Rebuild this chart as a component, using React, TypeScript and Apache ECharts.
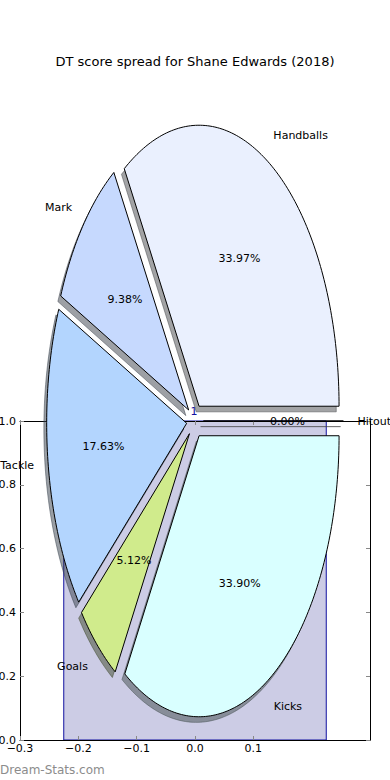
import React, { useEffect, useRef } from "react";
import * as echarts from "echarts";

// ---- data ----
const sliceNames = ["Hitout", "Handballs", "Mark", "Tackle", "Goals", "Kicks"];
const sliceShares = [0.0, 33.97, 9.38, 17.63, 5.12, 33.9];
const sliceColors = ["#D8D8D8", "#EAF0FE", "#C6D9FE", "#B3D5FE", "#D0EB8C", "#D9FFFF"];

const barX = [0];
const barHeights = [1];
const barLabels = ["1"];

const xTicks = [-0.3, -0.2, -0.1, 0.0, 0.1];
const yTicks = [0.0, 0.2, 0.4, 0.6, 0.8, 1.0];

const TITLE = "DT score spread for Shane Edwards (2018)";
const FOOTER = "Dream-Stats.com";

const FONT = "DejaVu Sans";
const EXPLODE = 0.06;
const SHADOW = 0.02;
const BAR_WIDTH = 0.45;

function hexToRgb(h: string) {
  const n = parseInt(h.slice(1), 16);
  return [(n >> 16) & 255, (n >> 8) & 255, n & 255];
}
function shadowColor(h: string) {
  const [r, g, b] = hexToRgb(h);
  return `rgba(${Math.round(r * 0.3)},${Math.round(g * 0.3)},${Math.round(b * 0.3)},0.5)`;
}
const fmtTick = (v: number) => v.toFixed(1).replace("-", "\u2212");

const total = sliceShares.reduce((a, b) => a + b, 0);
function sliceGeom(i: number) {
  let before = 0;
  for (let k = 0; k < i; k++) before += sliceShares[k];
  const start = (before / total) * Math.PI * 2;
  const end = ((before + sliceShares[i]) / total) * Math.PI * 2;
  const mid = (start + end) / 2;
  return { start, end, mid, cx: EXPLODE * Math.cos(mid), cy: EXPLODE * Math.sin(mid) };
}
function wedgePoints(api: any, i: number, dx: number, dy: number) {
  const g = sliceGeom(i);
  const pts: number[][] = [api.coord([g.cx + dx, g.cy + dy])];
  const n = Math.max(1, Math.ceil((g.end - g.start) / (Math.PI / 180)));
  for (let k = 0; k <= n; k++) {
    const a = g.start + ((g.end - g.start) * k) / n;
    pts.push(api.coord([g.cx + dx + Math.cos(a), g.cy + dy + Math.sin(a)]));
  }
  return pts;
}

export default function App() {
  const ref = useRef<HTMLDivElement>(null);
  useEffect(() => {
    if (!ref.current) return;
    const chart = echarts.init(ref.current, null, { renderer: "svg" });
    const axisCommon = {
      axisLine: { show: true, onZero: false, lineStyle: { color: "#000", width: 1 } },
      splitLine: { show: false },
    };
    chart.setOption({
      animation: false,
      backgroundColor: "#fff",
      grid: [
        { left: 20, right: 20, top: 421, bottom: 40, outerBoundsMode: "none", containLabel: false },
        { left: 20, right: 20, top: 27.6, height: 786.8, outerBoundsMode: "none", containLabel: false },
      ],
      xAxis: [
        {
          ...axisCommon,
          gridIndex: 0,
          type: "value",
          position: "bottom",
          min: -0.3,
          max: 0.3,
          z: 1,
          axisTick: { show: true, inside: true, length: 4, customValues: xTicks, lineStyle: { color: "#888" } },
          axisLabel: {
            show: true,
            customValues: xTicks,
            formatter: fmtTick,
            fontSize: 11,
            fontFamily: FONT,
            color: "#000",
            margin: 3,
          },
        },
        {
          ...axisCommon,
          gridIndex: 0,
          type: "value",
          position: "top",
          min: -0.3,
          max: 0.3,
          z: 1,
          axisTick: { show: true, inside: true, length: 4, customValues: xTicks, lineStyle: { color: "#888" } },
          axisLabel: { show: false },
        },
        { gridIndex: 1, type: "value", min: -1.25, max: 1.25, show: false },
      ],
      yAxis: [
        {
          ...axisCommon,
          gridIndex: 0,
          type: "value",
          position: "left",
          min: 0,
          max: 1,
          interval: 0.2,
          z: 1,
          axisTick: { show: true, inside: true, length: 4, lineStyle: { color: "#888" } },
          axisLabel: {
            show: true,
            formatter: (v: number) => v.toFixed(1),
            fontSize: 11,
            fontFamily: FONT,
            color: "#000",
            margin: 4,
          },
        },
        {
          ...axisCommon,
          gridIndex: 0,
          type: "value",
          position: "right",
          min: 0,
          max: 1,
          interval: 0.2,
          z: 1,
          axisTick: { show: true, inside: true, length: 4, lineStyle: { color: "#888" } },
          axisLabel: { show: false },
        },
        { gridIndex: 1, type: "value", min: -1.4, max: 1.4, show: false },
      ],
      graphic: [
        {
          type: "text",
          x: 195,
          y: 61,
          silent: true,
          style: { text: TITLE, fontSize: 13, fontFamily: FONT, fill: "#000", align: "center", verticalAlign: "middle" },
        },
        {
          type: "text",
          x: 0,
          y: 770,
          silent: true,
          style: { text: FOOTER, fontSize: 12, fontFamily: FONT, fill: "#8c8c8c", align: "left", verticalAlign: "middle" },
        },
      ],
      series: [
        {
          type: "custom",
          name: "bar",
          xAxisIndex: 0,
          yAxisIndex: 0,
          z: 0,
          silent: true,
          data: barX.map((x, i) => [x, barHeights[i]]),
          renderItem: (params: any, api: any) => {
            const x = api.value(0);
            const h = api.value(1);
            const p0 = api.coord([x - BAR_WIDTH / 2, h]);
            const p1 = api.coord([x + BAR_WIDTH / 2, 0]);
            return {
              type: "group",
              children: [
                {
                  type: "rect",
                  shape: { x: p0[0], y: p0[1], width: p1[0] - p0[0], height: p1[1] - p0[1] },
                  style: { fill: "#CCCCE5", stroke: "#1010A0", lineWidth: 1 },
                },
                {
                  type: "text",
                  x: api.coord([x, h])[0] - 1,
                  y: p0[1] - 4,
                  style: {
                    text: barLabels[params.dataIndex],
                    fontSize: 11,
                    fontFamily: FONT,
                    fill: "#1010A0",
                    align: "center",
                    verticalAlign: "bottom",
                  },
                },
              ],
            };
          },
        },
        {
          type: "custom",
          name: "shadows",
          xAxisIndex: 2,
          yAxisIndex: 2,
          z: 2,
          silent: true,
          data: sliceShares.map((v, i) => ({ name: sliceNames[i], value: [i, v] })),
          renderItem: (params: any, api: any) => {
            const i = params.dataIndex;
            const c = shadowColor(sliceColors[i]);
            return {
              type: "polygon",
              shape: { points: wedgePoints(api, i, -SHADOW, -SHADOW) },
              style: { fill: c, stroke: c, lineWidth: 1 },
            };
          },
        },
        {
          type: "custom",
          name: "wedges",
          xAxisIndex: 2,
          yAxisIndex: 2,
          z: 3,
          silent: true,
          data: sliceShares.map((v, i) => ({ name: sliceNames[i], value: [i, v] })),
          renderItem: (params: any, api: any) => {
            const i = params.dataIndex;
            const g = sliceGeom(i);
            const cos = Math.cos(g.mid);
            const sin = Math.sin(g.mid);
            const lab = api.coord([g.cx + 1.1 * cos, g.cy + 1.1 * sin]);
            const pct = api.coord([g.cx + 0.6 * cos, g.cy + 0.6 * sin]);
            return {
              type: "group",
              children: [
                {
                  type: "polygon",
                  shape: { points: wedgePoints(api, i, 0, 0) },
                  style: { fill: sliceColors[i], stroke: "#000", lineWidth: 1 },
                },
                {
                  type: "text",
                  x: lab[0],
                  y: lab[1],
                  style: {
                    text: sliceNames[i],
                    fontSize: 11,
                    fontFamily: FONT,
                    fill: "#000",
                    align: cos >= 0 ? "left" : "right",
                    verticalAlign: "middle",
                  },
                },
                {
                  type: "text",
                  x: pct[0],
                  y: pct[1],
                  style: {
                    text: ((sliceShares[i] / total) * 100).toFixed(2) + "%",
                    fontSize: 11,
                    fontFamily: FONT,
                    fill: "#000",
                    align: "center",
                    verticalAlign: "middle",
                  },
                },
              ],
            };
          },
        },
      ],
    });
    return () => chart.dispose();
  }, []);
  return (
    <div
      ref={ref}
      style={{ position: "absolute", left: 0, top: 0, width: 390, height: 780, background: "#fff" }}
    />
  );
}
